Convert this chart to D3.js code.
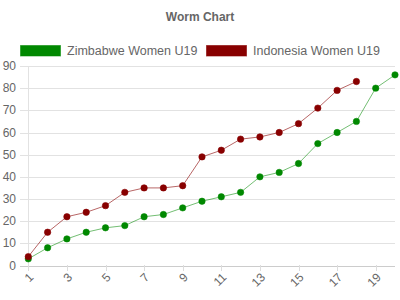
<html>
  <head>
    <script src="https://d3js.org/d3.v7.min.js"></script>
    <style>
      body { margin: 0; background: #fff; }
      text { font-family: "Liberation Sans", Arial, sans-serif; fill: #666; }
    </style>
  </head>
  <body>
    <div id="chart"></div>
    <script>
      // innings over numbers and cumulative runs for each side
      var overs = d3.range(1, 21);
      var zimbabwe = [3, 8, 12, 15, 17, 18, 22, 23, 26, 29, 31, 33, 40, 42, 46, 55, 60, 65, 80, 86];
      var indonesia = [4, 15, 22, 24, 27, 33, 35, 35, 36, 49, 52, 57, 58, 60, 64, 71, 79, 83];
      var yTicks = [0, 10, 20, 30, 40, 50, 60, 70, 80, 90];
      var teams = ["Zimbabwe Women U19", "Indonesia Women U19"];
      var colors = ["#008800", "#880000"];
      var lineColors = ["rgba(0,136,0,0.55)", "rgba(136,0,0,0.6)"];

      var width = 400, height = 300;
      var svg = d3.select("#chart").append("svg")
          .attr("width", width).attr("height", height);

      var x = d3.scaleLinear().domain([1, 20]).range([28.3, 395]);
      var y = d3.scaleLinear().domain([0, 90]).range([265.5, 66]);

      svg.append("text")
          .attr("x", 200).attr("y", 21)
          .attr("text-anchor", "middle")
          .style("font-size", "12px").style("font-weight", "bold")
          .text("Worm Chart");

      // legend
      var legendX = [20, 206];
      teams.forEach(function(t, i) {
          svg.append("rect")
              .attr("x", legendX[i] + 0.5).attr("y", 45.5)
              .attr("width", 40).attr("height", 10.5)
              .attr("fill", colors[i])
              .attr("stroke", lineColors[i]);
          svg.append("text")
              .attr("x", legendX[i] + 47).attr("y", 55)
              .style("font-size", "12.5px")
              .text(t);
      });

      // horizontal grid + y labels
      svg.selectAll(".grid").data(yTicks).enter().append("line")
          .attr("x1", 20).attr("x2", 395)
          .attr("y1", function(d) { return Math.round(y(d)) + 0.5; })
          .attr("y2", function(d) { return Math.round(y(d)) + 0.5; })
          .attr("stroke", function(d) { return d === 0 ? "#ccc" : "#e2e2e2"; });

      svg.selectAll(".ylab").data(yTicks).enter().append("text")
          .attr("x", 16)
          .attr("y", function(d) { return y(d) + 4; })
          .attr("text-anchor", "end")
          .style("font-size", "12px")
          .text(function(d) { return d; });

      svg.append("line")
          .attr("x1", 28.5).attr("x2", 28.5)
          .attr("y1", 66).attr("y2", 271)
          .attr("stroke", "#e2e2e2");

      // x ticks on odd overs
      var xTicks = overs.filter(function(d) { return d % 2 === 1; });
      svg.selectAll(".xt").data(xTicks).enter().append("line")
          .attr("x1", function(d) { return Math.round(x(d)) + 0.5; })
          .attr("x2", function(d) { return Math.round(x(d)) + 0.5; })
          .attr("y1", 265).attr("y2", 271)
          .attr("stroke", "#ddd");

      svg.selectAll(".xlab").data(xTicks).enter().append("text")
          .attr("text-anchor", "end")
          .attr("transform", function(d) {
              return "translate(" + (x(d) + 6) + ",278) rotate(-45)";
          })
          .style("font-size", "12px")
          .text(function(d) { return d; });

      var line = d3.line()
          .x(function(d, i) { return x(i + 1); })
          .y(function(d) { return y(d); });

      [zimbabwe, indonesia].forEach(function(series, k) {
          svg.append("path")
              .attr("d", line(series))
              .attr("fill", "none")
              .attr("stroke", lineColors[k])
              .attr("stroke-width", 1);
          svg.selectAll(".p" + k).data(series).enter().append("circle")
              .attr("cx", function(d, i) { return x(i + 1); })
              .attr("cy", function(d) { return y(d); })
              .attr("r", 3.2)
              .attr("fill", colors[k])
              .attr("stroke", lineColors[k])
              .attr("stroke-width", 1);
      });
    </script>
  </body>
</html>
